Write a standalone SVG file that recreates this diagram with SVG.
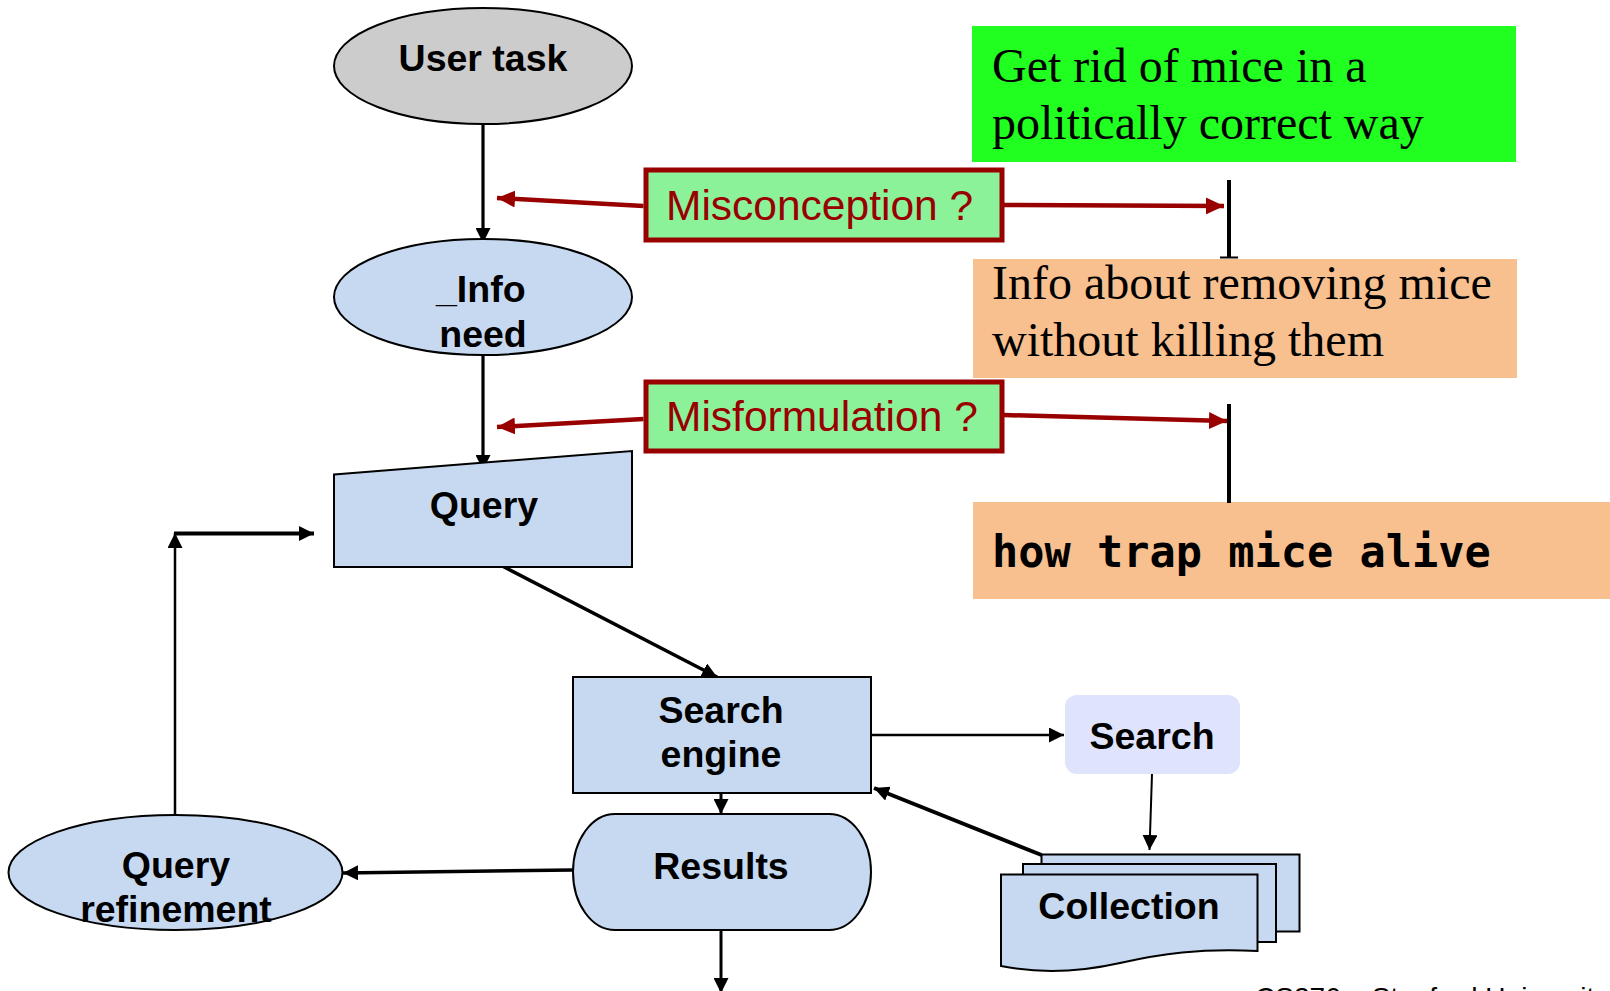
<svg xmlns="http://www.w3.org/2000/svg" width="1610" height="991" viewBox="0 0 1610 991">
<style>
.lbl{font-family:"Liberation Sans",Arial,sans-serif;font-weight:bold;font-size:37.5px;fill:#000;text-anchor:middle}
.blue{fill:#C6D9F1;stroke:#000;stroke-width:2}
.miss{fill:#8CF29A;stroke:#990000;stroke-width:5}
.misst{font-family:"Liberation Sans",Arial,sans-serif;font-size:42.5px;fill:#990000}
.serif{font-family:"Liberation Serif","Times New Roman",serif;font-size:48px;fill:#000}
.mono{font-family:"DejaVu Sans Mono","Liberation Mono",monospace;font-weight:bold;font-size:43.6px;fill:#000}
.blk{stroke:#000;fill:none}
.red{stroke:#990000;stroke-width:4.5;fill:none}
</style>
<defs>
<marker id="ab" markerUnits="userSpaceOnUse" viewBox="0 0 15 15" refX="15" refY="7.5" markerWidth="15" markerHeight="15" orient="auto"><path d="M0,0 L15,7.5 L0,15 Z" fill="#000"/></marker>
<marker id="ar" markerUnits="userSpaceOnUse" viewBox="0 0 18 17" refX="18" refY="8.5" markerWidth="18" markerHeight="17" orient="auto"><path d="M0,0 L18,8.5 L0,17 Z" fill="#990000"/></marker>
</defs>
<rect width="1610" height="991" fill="#fff"/>

<g id="note-goal">
<rect x="972" y="26" width="544" height="136" fill="#21FF21"/>
<text class="serif" x="992" y="82">Get rid of mice in a</text>
<text class="serif" x="992" y="139">politically correct way</text>
</g>
<g id="note-info">
<rect x="973" y="259" width="544" height="119" fill="#F8BF8F"/>
<text class="serif" x="992" y="299">Info about removing mice</text>
<text class="serif" x="992" y="356">without killing them</text>
</g>
<g id="note-query">
<rect x="973" y="502" width="637" height="97" fill="#F8BF8F"/>
<text class="mono" x="992" y="567">how trap mice alive</text>
</g>

<g id="connectors">
<line class="blk" stroke-width="3.2" x1="483" y1="124" x2="483" y2="243" marker-end="url(#ab)"/>
<line class="blk" stroke-width="3.2" x1="483" y1="355" x2="483" y2="470" marker-end="url(#ab)"/>
<line class="red" x1="643.5" y1="206" x2="497" y2="198" marker-end="url(#ar)"/>
<line class="red" x1="643.5" y1="419" x2="497" y2="427" marker-end="url(#ar)"/>
<line class="red" x1="1004" y1="205" x2="1224" y2="206" marker-end="url(#ar)"/>
<line class="red" x1="1004" y1="415" x2="1227" y2="421" marker-end="url(#ar)"/>
<line class="blk" stroke-width="4" x1="1229" y1="180" x2="1229" y2="258"/>
<line class="blk" stroke-width="2" x1="1220" y1="257.5" x2="1238" y2="257.5"/>
<line class="blk" stroke-width="4" x1="1229" y1="404" x2="1229" y2="503"/>
<line class="blk" stroke-width="3.5" x1="497.5" y1="563.5" x2="717" y2="677" marker-end="url(#ab)"/>
<line class="blk" stroke-width="2.5" x1="871" y1="735" x2="1064" y2="735" marker-end="url(#ab)"/>
<line class="blk" stroke-width="2" x1="1152" y1="774" x2="1149.5" y2="850" marker-end="url(#ab)"/>
<line class="blk" stroke-width="4" x1="1041.5" y1="855" x2="874" y2="788" marker-end="url(#ab)"/>
<line class="blk" stroke-width="3" x1="721" y1="793.5" x2="721" y2="814" marker-end="url(#ab)"/>
<line class="blk" stroke-width="3" x1="721" y1="930" x2="721" y2="993" marker-end="url(#ab)"/>
<line class="blk" stroke-width="3.5" x1="573" y1="870" x2="343" y2="873" marker-end="url(#ab)"/>
<line class="blk" stroke-width="2.5" x1="175" y1="815" x2="175" y2="533" marker-end="url(#ab)"/>
<line class="blk" stroke-width="4" x1="174" y1="533.5" x2="314" y2="533.5" marker-end="url(#ab)"/>
</g>

<g id="user-task">
<ellipse cx="483" cy="66" rx="149" ry="58" fill="#CCCCCC" stroke="#000" stroke-width="2"/>
<text class="lbl" x="483" y="71">User task</text>
</g>
<g id="info-need">
<ellipse class="blue" cx="483" cy="297" rx="149" ry="58"/>
<text class="lbl" x="436" y="302" style="text-anchor:start">_Info</text>
<text class="lbl" x="483" y="347">need</text>
</g>
<g id="query">
<path class="blue" d="M334,474.5 L632,451 L632,567 L334,567 Z"/>
<text class="lbl" x="484" y="518">Query</text>
</g>
<g id="misconception">
<rect class="miss" x="646" y="170" width="356" height="70"/>
<text class="misst" x="666" y="220">Misconception ?</text>
</g>
<g id="misformulation">
<rect class="miss" x="646" y="382" width="356" height="69"/>
<text class="misst" x="666" y="431">Misformulation ?</text>
</g>
<g id="search-engine">
<rect class="blue" x="573" y="677" width="298" height="116"/>
<text class="lbl" x="721" y="723">Search</text>
<text class="lbl" x="721" y="767">engine</text>
</g>
<g id="search">
<rect x="1065" y="695" width="175" height="79" rx="12" fill="#DFE3FB"/>
<text class="lbl" x="1152" y="749">Search</text>
</g>
<g id="results">
<rect class="blue" x="573" y="814" width="298" height="116" rx="42" ry="58"/>
<text class="lbl" x="721" y="879">Results</text>
</g>
<g id="query-refinement">
<ellipse class="blue" cx="175.5" cy="872.5" rx="167" ry="57.5"/>
<text class="lbl" x="176" y="878">Query</text>
<text class="lbl" x="176" y="922">refinement</text>
</g>
<g id="collection">
<rect class="blue" x="1041.5" y="854.5" width="258" height="77"/>
<rect class="blue" x="1023" y="864" width="253" height="78"/>
<path class="blue" d="M1001,874.5 L1257.5,874.5 L1257.5,951 C1200,948 1160,954 1120,963 C1080,972 1040,974 1001,966 Z"/>
<text class="lbl" x="1129" y="919">Collection</text>
</g>
<g id="footer">
<text x="1255" y="1007" style="font-family:'Liberation Sans',Arial,sans-serif;font-size:28px;fill:#000">CS276 – Stanford University</text>
</g>
</svg>
